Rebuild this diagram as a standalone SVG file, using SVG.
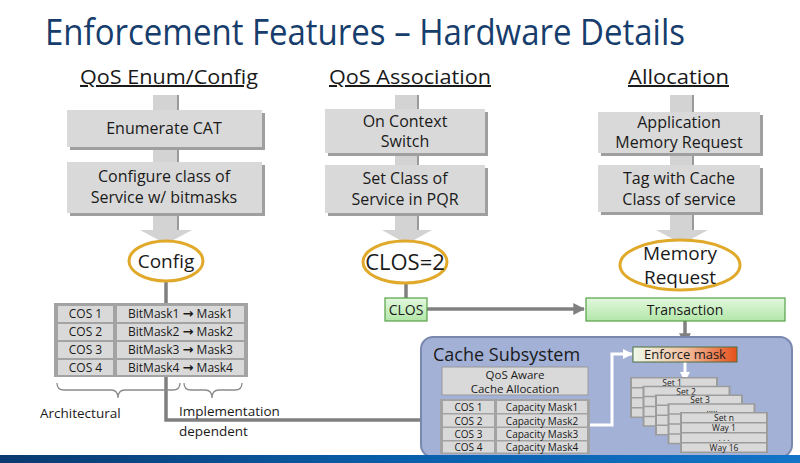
<svg xmlns="http://www.w3.org/2000/svg" width="800" height="463" viewBox="0 0 800 463">
<defs>
<style>
text{font-family:"Open Sans","Noto Sans","Liberation Sans",sans-serif;fill:#1a1a1a}
.title{font-size:36px;fill:#163d6c}
.head{font-size:20px;text-decoration:underline}
.bt{font-size:16px;text-anchor:middle}
.box{fill:#d9d9d9}
.shadow{fill:#9f9f9f}
.bar{fill:#d3d3d3}
.oval{fill:#fff;stroke:#e0a92a;stroke-width:3}
.cell{fill:#d9d9d9}
.frame{fill:#a3a3a3}
.ct{font-size:12px;text-anchor:middle}
.qa{font-size:11.5px;text-anchor:middle}
.st{font-size:10px;text-anchor:middle}
.sn{font-size:8.5px;text-anchor:middle}
.arr{font-family:"DejaVu Sans",sans-serif;font-weight:bold;font-size:13px}
.gline{fill:none;stroke:#808080;stroke-width:3.5}
.wline{fill:none;stroke:#fff;stroke-width:3}
.brace{fill:none;stroke:#8a8a8a;stroke-width:1.3}
.green{fill:url(#gg);stroke:#55a048;stroke-width:1.2}
</style>
<linearGradient id="gg" x1="0" y1="0" x2="0" y2="1"><stop offset="0" stop-color="#e3f8de"/><stop offset="1" stop-color="#b2e6a8"/></linearGradient>
<linearGradient id="em" x1="0" y1="0" x2="1" y2="0"><stop offset="0" stop-color="#eef9ea"/><stop offset="0.5" stop-color="#f3c0a0"/><stop offset="1" stop-color="#e6501c"/></linearGradient>
<linearGradient id="band" x1="0" y1="0" x2="1" y2="0"><stop offset="0" stop-color="#0a3a70"/><stop offset="0.5" stop-color="#0a5fab"/><stop offset="1" stop-color="#1374c8"/></linearGradient>
<marker id="ag" viewBox="0 0 10 10" refX="9" refY="5" markerWidth="3.4" markerHeight="3.4" orient="auto"><path d="M0,0 L10,5 L0,10 z" fill="#808080"/></marker>
<marker id="aw" viewBox="0 0 10 10" refX="9" refY="5" markerWidth="3.4" markerHeight="3.4" orient="auto"><path d="M0,0 L10,5 L0,10 z" fill="#fff"/></marker>
</defs>
<rect width="800" height="463" fill="#fff"/>
<text class="title" x="45" y="45" textLength="640" lengthAdjust="spacingAndGlyphs">Enforcement Features – Hardware Details</text>

<g id="col1-heading"><text class="head" x="80" y="84" textLength="178" lengthAdjust="spacingAndGlyphs">QoS Enum/Config</text></g>
<g id="col2-heading"><text class="head" x="329" y="84" textLength="162" lengthAdjust="spacingAndGlyphs">QoS Association</text></g>
<g id="col3-heading"><text class="head" x="628" y="84" textLength="101" lengthAdjust="spacingAndGlyphs">Allocation</text></g>

<g id="flow-arrows">
<rect class="bar" x="153" y="95" width="26" height="136"/><rect x="177" y="95" width="2" height="136" fill="#9a9a9a"/>
<polygon class="bar" points="140,230 192,230 166,244"/>
<rect class="bar" x="395" y="95" width="24" height="136"/><rect x="417" y="95" width="2" height="136" fill="#9a9a9a"/>
<polygon class="bar" points="382,230 432,230 407,244"/>
<rect class="bar" x="670" y="95" width="24" height="136"/><rect x="692" y="95" width="2" height="136" fill="#9a9a9a"/>
<polygon class="bar" points="656,230 708,230 682,244"/>
</g>

<g id="enumerate-cat"><rect class="shadow" x="70" y="113" width="195" height="37"/><rect class="box" x="67" y="110" width="195" height="37"/><text class="bt" x="164" y="134">Enumerate CAT</text></g>
<g id="configure-cos"><rect class="shadow" x="70" y="165" width="195" height="51"/><rect class="box" x="67" y="162" width="195" height="51"/><text class="bt" x="164" y="182">Configure class of</text><text class="bt" x="164" y="203">Service w/ bitmasks</text></g>

<g id="context-switch"><rect class="shadow" x="328" y="112" width="160" height="44"/><rect class="box" x="325" y="109" width="160" height="44"/><text class="bt" x="405" y="127">On Context</text><text class="bt" x="405" y="147">Switch</text></g>
<g id="set-cos-pqr"><rect class="shadow" x="328" y="168" width="160" height="48"/><rect class="box" x="325" y="165" width="160" height="48"/><text class="bt" x="405" y="184">Set Class of</text><text class="bt" x="405" y="205">Service in PQR</text></g>

<g id="app-mem-request"><rect class="shadow" x="601" y="115" width="162" height="41"/><rect class="box" x="598" y="112" width="162" height="41"/><text class="bt" x="679" y="128">Application</text><text class="bt" x="679" y="148">Memory Request</text></g>
<g id="tag-cos"><rect class="shadow" x="601" y="168" width="162" height="47"/><rect class="box" x="598" y="165" width="162" height="47"/><text class="bt" x="679" y="184">Tag with Cache</text><text class="bt" x="679" y="205">Class of service</text></g>

<g id="connectors">
<path class="gline" d="M166,282 V420 H438" marker-end="url(#ag)"/>
<path class="gline" d="M406,283 V299"/>
<path class="gline" d="M427,309 H584" marker-end="url(#ag)"/>
<path class="gline" d="M685,321 V344" marker-end="url(#ag)"/>
</g>

<g id="config"><ellipse class="oval" cx="166" cy="261" rx="37" ry="20"/><text x="166" y="268" font-size="19" text-anchor="middle">Config</text></g>
<g id="clos2"><ellipse class="oval" cx="405" cy="262" rx="42" ry="21"/><text x="405" y="270" font-size="22" text-anchor="middle">CLOS=2</text></g>
<g id="memory-request"><ellipse class="oval" cx="680" cy="265" rx="60" ry="25"/><text x="680" y="260" font-size="19" text-anchor="middle">Memory</text><text x="680" y="284" font-size="19" text-anchor="middle">Request</text></g>

<g id="cos-table">
<rect class="frame" x="54" y="303" width="194" height="74"/>
<rect class="cell" x="58" y="306" width="55" height="16"/><rect class="cell" x="117" y="306" width="127" height="16"/>
<rect class="cell" x="58" y="324" width="55" height="16"/><rect class="cell" x="117" y="324" width="127" height="16"/>
<rect class="cell" x="58" y="342" width="55" height="16"/><rect class="cell" x="117" y="342" width="127" height="16"/>
<rect class="cell" x="58" y="360" width="55" height="15"/><rect class="cell" x="117" y="360" width="127" height="15"/>
<text class="ct" x="85.5" y="318">COS 1</text><text class="ct" x="180.5" y="318">BitMask1 <tspan class="arr">→</tspan> Mask1</text>
<text class="ct" x="85.5" y="336">COS 2</text><text class="ct" x="180.5" y="336">BitMask2 <tspan class="arr">→</tspan> Mask2</text>
<text class="ct" x="85.5" y="354">COS 3</text><text class="ct" x="180.5" y="354">BitMask3 <tspan class="arr">→</tspan> Mask3</text>
<text class="ct" x="85.5" y="372">COS 4</text><text class="ct" x="180.5" y="372">BitMask4 <tspan class="arr">→</tspan> Mask4</text>
</g>

<g id="architectural">
<path class="brace" d="M57,383 q0,7 7,7 H111 q7,0 7,8 q0,-8 7,-8 H173 q7,0 7,-7"/>
<text x="40" y="418" font-size="13.5">Architectural</text>
</g>
<g id="implementation">
<path class="brace" d="M184,383 q0,7 7,7 H205 q7,0 7,8 q0,-8 7,-8 H235 q7,0 7,-7"/>
<text x="179" y="416" font-size="13.5">Implementation</text>
<text x="179" y="436" font-size="13.5">dependent</text>
</g>

<g id="clos"><rect class="green" x="385" y="298" width="42" height="23"/><text x="406" y="314.5" font-size="14" text-anchor="middle">CLOS</text></g>
<g id="transaction"><rect class="green" x="586" y="298" width="199" height="23"/><text x="685" y="314.5" font-size="14" text-anchor="middle">Transaction</text></g>

<g id="cache-subsystem">
<rect x="421" y="337" width="371" height="120" rx="12" fill="#a3b1d6" stroke="#7a88b0" stroke-width="2"/>
<text x="433" y="361" font-size="18">Cache Subsystem</text>
<rect x="442" y="367" width="146" height="28" fill="#d9d9d9" stroke="#9a9a9a"/>
<text class="qa" x="515" y="379">QoS Aware</text>
<text class="qa" x="515" y="392.5">Cache Allocation</text>
<rect class="frame" x="440" y="399" width="150" height="55"/>
<rect class="cell" x="443" y="401" width="51" height="12"/><rect class="cell" x="497" y="401" width="90" height="12"/>
<rect class="cell" x="443" y="414.5" width="51" height="12"/><rect class="cell" x="497" y="414.5" width="90" height="12"/>
<rect class="cell" x="443" y="428" width="51" height="12"/><rect class="cell" x="497" y="428" width="90" height="12"/>
<rect class="cell" x="443" y="441.5" width="51" height="11"/><rect class="cell" x="497" y="441.5" width="90" height="11"/>
<text class="st" x="468.5" y="411">COS 1</text><text class="st" x="542" y="411">Capacity Mask1</text>
<text class="st" x="468.5" y="424.5">COS 2</text><text class="st" x="542" y="424.5">Capacity Mask2</text>
<text class="st" x="468.5" y="438">COS 3</text><text class="st" x="542" y="438">Capacity Mask3</text>
<text class="st" x="468.5" y="451">COS 4</text><text class="st" x="542" y="451">Capacity Mask4</text>
</g>

<g id="white-connectors">
<path class="wline" d="M590,425 H612 V354 H632" marker-end="url(#aw)"/>
<path class="wline" d="M685,362 V381" marker-end="url(#aw)"/>
</g>

<g id="enforce-mask"><rect x="633" y="347" width="104" height="15" fill="url(#em)" stroke="#4f6e3c" stroke-width="1"/><text x="685" y="359" font-size="13" text-anchor="middle">Enforce mask</text></g>

<g id="sets">
<g id="set1"><rect x="630" y="377" width="88" height="41" fill="#9c9c9c"/><rect class="cell" x="632" y="378.5" width="84" height="8.5"/><rect class="cell" x="632" y="388.5" width="84" height="8.5"/><rect class="cell" x="632" y="398.5" width="84" height="8.5"/><rect class="cell" x="632" y="408.5" width="84" height="8"/><text class="sn" x="672" y="386">Set 1</text></g>
<g id="set2"><rect x="642.5" y="385.75" width="88" height="41" fill="#9c9c9c"/><rect class="cell" x="644.5" y="387.25" width="84" height="8.5"/><rect class="cell" x="644.5" y="397.25" width="84" height="8.5"/><rect class="cell" x="644.5" y="407.25" width="84" height="8.5"/><rect class="cell" x="644.5" y="417.25" width="84" height="8"/><text class="sn" x="686" y="394.5">Set 2</text></g>
<g id="set3"><rect x="655" y="394.5" width="88" height="41" fill="#9c9c9c"/><rect class="cell" x="657" y="396" width="84" height="8.5"/><rect class="cell" x="657" y="406" width="84" height="8.5"/><rect class="cell" x="657" y="416" width="84" height="8.5"/><rect class="cell" x="657" y="426" width="84" height="8"/><text class="sn" x="700" y="403.3">Set 3</text></g>
<g id="set4"><rect x="667.5" y="403.25" width="88" height="41" fill="#9c9c9c"/><rect class="cell" x="669.5" y="404.75" width="84" height="8.5"/><rect class="cell" x="669.5" y="414.75" width="84" height="8.5"/><rect class="cell" x="669.5" y="424.75" width="84" height="8.5"/><rect class="cell" x="669.5" y="434.75" width="84" height="8"/><text class="sn" x="712" y="411.5">.....</text></g>
<g id="setn"><rect x="680" y="412" width="88" height="41" fill="#9c9c9c"/><rect class="cell" x="682" y="413.5" width="84" height="8.5"/><rect class="cell" x="682" y="423.5" width="84" height="8.5"/><rect class="cell" x="682" y="433.5" width="84" height="8.5"/><rect class="cell" x="682" y="443.5" width="84" height="8"/>
<text class="sn" x="724" y="420.8">Set n</text><text class="sn" x="724" y="430.8">Way 1</text><text class="sn" x="724" y="440.8">. . .</text><text class="sn" x="724" y="450.8">Way 16</text></g>
</g>

<rect x="0" y="455" width="800" height="8" fill="url(#band)"/>
</svg>
